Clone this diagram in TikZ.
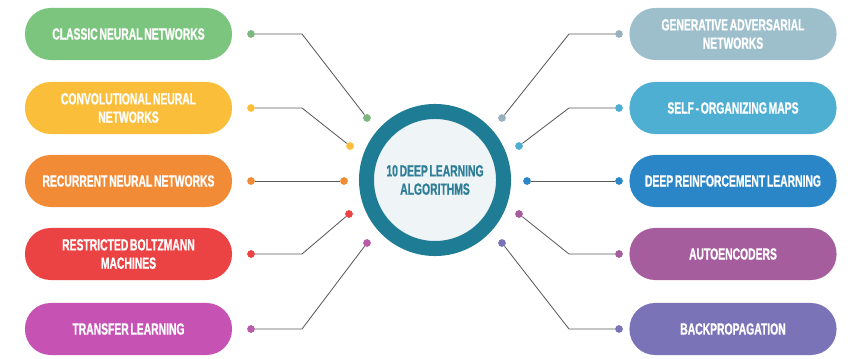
\documentclass[tikz,border=0pt]{standalone}
\usepackage{fontspec}
\newfontfamily\pillfont[FakeStretch=0.64, WordSpace=0.6, FakeBold=0.8]{Liberation Sans}
\usetikzlibrary{positioning,calc}
\usepackage{xcolor}
\definecolor{cgreen}{HTML}{7CC57E}
\definecolor{cyellow}{HTML}{FBBE3B}
\definecolor{corange}{HTML}{F28B36}
\definecolor{cred}{HTML}{EB4244}
\definecolor{cmagenta}{HTML}{C653B4}
\definecolor{cgreyblue}{HTML}{9DBFCB}
\definecolor{clightblue}{HTML}{4FAFD3}
\definecolor{cblue}{HTML}{2B86C7}
\definecolor{cmauve}{HTML}{A65D9E}
\definecolor{cviolet}{HTML}{7B73B8}
\definecolor{ring}{HTML}{1F7C95}
\definecolor{ringfill}{HTML}{EFF4F6}
\definecolor{hubtext}{HTML}{2E7E98}
\definecolor{wire}{HTML}{5A5A5A}

\begin{document}
\begin{tikzpicture}[x=0.025cm, y=-0.025cm,
  pill/.style={rounded corners=0.64cm, fill=#1, minimum width=5.175cm,
               minimum height=1.3cm, align=center,
               text=white, font=\pillfont\bfseries\fontsize{11.5}{13}\selectfont},
  hub/.style={circle, draw=ring, line width=0.375cm, fill=ringfill,
              minimum size=3.425cm, align=center, text=hubtext,
              font=\pillfont\bfseries\fontsize{11.5}{13}\selectfont},
  dot/.style={circle, fill=#1, inner sep=0pt, minimum size=5.5pt},
  wireline/.style={draw=wire, line width=0.6pt},
]
\useasboundingbox (0,0) rectangle (848,359);

\node[hub] (hub) at (435,180) {10 DEEP LEARNING\\ALGORITHMS};

\node[pill=cgreen]   (cnn1) at (128.5,34)  {CLASSIC NEURAL NETWORKS};
\node[pill=cyellow]  (conv) at (128.5,108) {CONVOLUTIONAL NEURAL\\NETWORKS};
\node[pill=corange]  (rnn)  at (128.5,181) {RECURRENT NEURAL NETWORKS};
\node[pill=cred]     (rbm)  at (128.5,254) {RESTRICTED BOLTZMANN\\MACHINES};
\node[pill=cmagenta] (tl)   at (128.5,329) {TRANSFER LEARNING};

\node[pill=cgreyblue]  (gan) at (733,34)  {GENERATIVE ADVERSARIAL\\NETWORKS};
\node[pill=clightblue] (som) at (733,108) {SELF - ORGANIZING MAPS};
\node[pill=cblue]      (drl) at (733,181) {DEEP REINFORCEMENT LEARNING};
\node[pill=cmauve]     (ae)  at (733,254) {AUTOENCODERS};
\node[pill=cviolet]    (bp)  at (733,329) {BACKPROPAGATION};

\node[dot=cgreen!80!gray]   (cnn1o) at (251,34)  {};
\node[dot=cyellow]          (convo) at (251,108) {};
\node[dot=corange]          (rnno)  at (251,181) {};
\node[dot=cred]             (rbmo)  at (251,254) {};
\node[dot=cmagenta!80!gray] (tlo)   at (251,329) {};
\node[dot=cgreen!80!gray]   (cnn1i) at (367,118) {};
\node[dot=cyellow]          (convi) at (350,146) {};
\node[dot=corange]          (rnni)  at (344,181) {};
\node[dot=cred]             (rbmi)  at (349,214) {};
\node[dot=cmagenta!80!gray] (tli)   at (367,243) {};

\node[dot=cgreyblue!80!gray] (gano) at (619,34)  {};
\node[dot=clightblue]        (somo) at (619,108) {};
\node[dot=cblue]             (drlo) at (619,181) {};
\node[dot=cmauve]            (aeo)  at (619,254) {};
\node[dot=cviolet]           (bpo)  at (619,329) {};
\node[dot=cgreyblue!80!gray] (gani) at (502,118) {};
\node[dot=clightblue]        (somi) at (519,146) {};
\node[dot=cblue]             (drli) at (527,181) {};
\node[dot=cmauve]            (aei)  at (519,214) {};
\node[dot=cviolet]           (bpi)  at (502,243) {};

\draw[wireline] (cnn1o) -- (302,34)  -- (cnn1i);
\draw[wireline] (convo) -- (302,108) -- (convi);
\draw[wireline] (rnno)  -- (rnni);
\draw[wireline] (rbmo)  -- (302,254) -- (rbmi);
\draw[wireline] (tlo)   -- (302,329) -- (tli);

\draw[wireline] (gano) -- (569,34)  -- (gani);
\draw[wireline] (somo) -- (569,108) -- (somi);
\draw[wireline] (drlo) -- (drli);
\draw[wireline] (aeo)  -- (569,254) -- (aei);
\draw[wireline] (bpo)  -- (569,329) -- (bpi);
\end{tikzpicture}
\end{document}
